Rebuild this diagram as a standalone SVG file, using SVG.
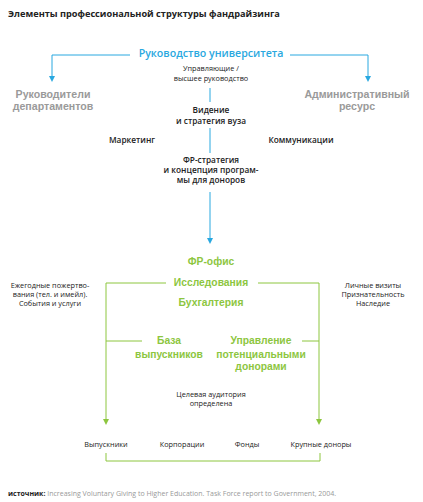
<svg xmlns="http://www.w3.org/2000/svg" width="423" height="502" viewBox="0 0 423 502">
<style>
text{font-family:"Open Sans","Noto Sans","DejaVu Sans",sans-serif;text-anchor:middle}
.t{font-size:9.2px;font-weight:700;fill:#222;text-anchor:start}
.b{font-size:10.6px;font-weight:600;fill:#29a8e0}
.g{font-family:"Liberation Sans",Arial,sans-serif;font-size:10.6px;font-weight:700;fill:#9a9a9a}
.gr{font-family:"Liberation Sans",Arial,sans-serif;font-size:10.3px;font-weight:700;fill:#8dc63f}
.s{font-size:7.3px;fill:#222}
.m{font-size:8.3px;font-weight:600;fill:#222}
.src{font-size:7px;fill:#999;text-anchor:start}
.bl{stroke:#29a8e0;stroke-width:1;fill:none}
.gl{stroke:#8dc63f;stroke-width:1;fill:none}
</style>
<text class="t" x="8" y="17">Элементы профессиональной структуры фандрайзинга</text>
<g id="connectors">
<path class="bl" d="M130,55 H52 V76"/>
<path class="bl" d="M290,55 H368 V76"/>
<polygon points="49,76 55,76 52,82" fill="#29a8e0"/>
<polygon points="365,76 371,76 368,82" fill="#29a8e0"/>
<path class="bl" d="M210,88 V102"/>
<path class="bl" d="M210,128 V153"/>
<path class="bl" d="M210,192 V238"/>
<polygon points="207,238 213,238 210,244" fill="#29a8e0"/>
<path class="gl" d="M166,283 H106 V419"/>
<path class="gl" d="M258,283 H319 V419"/>
<path class="gl" d="M106,341 H142"/>
<path class="gl" d="M302,341 H319"/>
<polygon points="103,419 109,419 106,425" fill="#8dc63f"/>
<polygon points="316,419 322,419 319,425" fill="#8dc63f"/>
<path class="gl" d="M106,453 V461 H320 V453"/>
</g>
<g id="n-leadership"><text class="b" x="211" y="57">Руководство университета</text></g>
<g id="n-managers"><text class="s" x="211" y="71">Управляющие /</text><text class="s" x="211" y="81">высшее руководство</text></g>
<g id="n-departments"><text class="g" x="53" y="98">Руководители</text><text class="g" x="53" y="110">департаментов</text></g>
<g id="n-admin"><text class="g" x="357" y="98">Административный</text><text class="g" x="357" y="110">ресурс</text></g>
<g id="n-vision"><text class="m" x="211" y="113">Видение</text><text class="m" x="211" y="124">и стратегия вуза</text></g>
<g id="n-marketing"><text class="m" x="132" y="143">Маркетинг</text></g>
<g id="n-comm"><text class="m" x="301" y="143">Коммуникации</text></g>
<g id="n-frstrategy"><text class="m" x="211" y="163">ФР-стратегия</text><text class="m" x="211" y="173">и концепция програм-</text><text class="m" x="211" y="183">мы для доноров</text></g>
<g id="n-froffice"><text class="gr" x="211" y="265">ФР-офис</text></g>
<g id="n-research"><text class="gr" x="211" y="286">Исследования</text></g>
<g id="n-accounting"><text class="gr" x="211" y="306">Бухгалтерия</text></g>
<g id="n-annual"><text class="s" x="50" y="288">Ежегодные пожертво-</text><text class="s" x="50" y="297">вания (тел. и имейл).</text><text class="s" x="50" y="306">События и услуги</text></g>
<g id="n-personal"><text class="s" x="373" y="288">Личные визиты</text><text class="s" x="373" y="297">Признательность</text><text class="s" x="373" y="306">Наследие</text></g>
<g id="n-alumni-db"><text class="gr" x="169" y="344">База</text><text class="gr" x="169" y="358">выпускников</text></g>
<g id="n-prospect"><text class="gr" x="261" y="344">Управление</text><text class="gr" x="261" y="358">потенциальными</text><text class="gr" x="261" y="370">донорами</text></g>
<g id="n-target"><text class="s" x="211" y="397">Целевая аудитория</text><text class="s" x="211" y="406">определена</text></g>
<g id="n-alumni"><text class="s" x="106" y="447">Выпускники</text></g>
<g id="n-corp"><text class="s" x="182" y="447">Корпорации</text></g>
<g id="n-funds"><text class="s" x="247" y="447">Фонды</text></g>
<g id="n-major"><text class="s" x="321" y="447">Крупные доноры</text></g>
<text class="src" x="8" y="496"><tspan font-weight="700" fill="#222">источник:</tspan> Increasing Voluntary Giving to Higher Education. Task Force report to Government, 2004.</text>
</svg>
